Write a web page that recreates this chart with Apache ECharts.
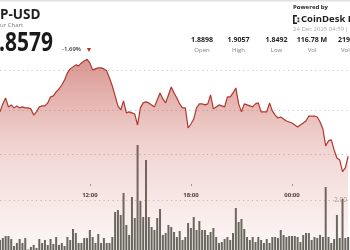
<!DOCTYPE html>
<html><head><meta charset="utf-8">
<script src="https://cdn.jsdelivr.net/npm/echarts@6/dist/echarts.min.js"></script>
<style>html,body{margin:0;padding:0;background:#fff}#c{width:350px;height:250px}</style>
</head><body><div id="c"></div>
<script>
// ---- data ----
const startMinute = 6 * 60 + 40;   // 06:40
const stepMinutes = 10;
const prices = [
  1.8793,1.8833,1.8863,1.8818,1.8828,1.8813,1.8823,1.8813,1.8818,1.8813,
  1.8813,1.8808,1.8777,1.8793,1.8818,1.8823,1.8823,1.8838,1.8868,1.8873,
  1.8893,1.8908,1.8928,1.8953,1.8989,1.9009,1.9019,1.9029,1.9024,1.9039,
  1.9049,1.9057,1.9039,1.9004,1.9009,1.9014,1.9014,1.9009,1.8999,1.8963,
  1.8923,1.8873,1.8823,1.8803,1.8848,1.8788,1.8793,1.8788,1.8782,1.8727,
  1.8813,1.8838,1.8843,1.8838,1.8828,1.8818,1.8853,1.8888,1.8858,1.8838,
  1.8878,1.8918,1.8888,1.8863,1.8833,1.8813,1.8813,1.8712,1.8732,1.8757,
  1.8813,1.8833,1.8833,1.8828,1.8833,1.8878,1.8808,1.8818,1.8828,1.8823,
  1.8818,1.8868,1.8868,1.8888,1.8913,1.8833,1.8793,1.8833,1.8828,1.8823,
  1.8818,1.8833,1.8838,1.8793,1.8793,1.8793,1.8838,1.8798,1.8777,1.8762,
  1.8767,1.8757,1.8747,1.8742,1.8737,1.8727,1.8717,1.8727,1.8737,1.8747,
  1.8772,1.8772,1.8772,1.8767,1.8742,1.8707,1.8622,1.8647,1.8652,1.8602,
  1.8561,1.8551,1.8493,1.8511,1.8570
];
const volumes = [ // millions
  0.40,0.48,0.56,0.56,0.44,0.16,0.28,0.44,0.28,0.48,
  0.02,0.12,0.20,0.08,0.44,0.28,0.40,0.20,0.44,0.24,
  0.52,0.20,0.28,0.16,0.52,0.40,0.84,0.68,0.28,0.28,
  0.48,0.48,0.80,0.52,0.28,0.64,0.28,0.48,0.28,0.28,
  0.52,1.52,1.60,1.40,2.28,1.00,0.60,2.12,1.28,4.20,
  1.96,1.32,3.60,1.32,0.92,0.80,1.28,1.64,0.60,0.68,
  1.00,0.92,0.72,0.52,0.76,0.40,0.52,1.08,0.88,1.32,
  0.80,1.16,0.80,0.80,0.60,0.72,0.88,0.52,0.28,0.32,
  0.44,0.52,0.40,0.68,1.68,1.12,1.24,0.84,0.52,0.40,
  0.52,0.32,0.52,0.40,0.28,0.44,0.28,0.52,0.52,0.48,
  0.80,0.60,0.52,0.56,0.56,0.56,0.52,0.32,0.60,0.68,
  0.68,0.40,0.52,0.48,0.60,0.52,2.52,0.52,0.28,0.44,
  1.40,0.48,2.04,0.48,0.52
];
const timeTickLabels = ['12:00', '18:00', '00:00'];
const priceGridValues = [1.8579, 1.88, 1.90];
const volumeTickValues = [2];
const statValues = ['1.8898', '1.9057', '1.8492', '116.78 M', '219'];
const statLabels = ['Open', 'High', 'Low', 'Vol', 'Vol'];
const titleText = 'P-USD';
const subtitleText = 'ur Chart';
const lastPriceText = '.8579';
const changeText = '-1.69%';
const poweredText = 'Powered by';
const brandText = 'CoinDesk D';
const dateText = '24 Dec 2025 04:59 (';

// ---- build ----
const categories = prices.map((_, i) => {
  const m = (startMinute + i * stepMinutes) % 1440;
  return String(Math.floor(m / 60)).padStart(2, '0') + ':' + String(m % 60).padStart(2, '0');
});
const showTick = (idx, val) => timeTickLabels.includes(val);

function txt(text, x, y, size, weight, color, align, extra) {
  const el = { type: 'text', x: x, y: y, silent: true, z: 100,
    style: { text: text, fill: color, font: weight + ' ' + size + 'px "Open Sans", sans-serif',
      align: align || 'left', verticalAlign: 'middle' } };
  return Object.assign(el, extra || {});
}
const statX = [202, 238.5, 276.5, 312, 338];
const statAlign = ['center', 'center', 'center', 'center', 'left'];
const graphics = [
  { type: 'rect', shape: { x: 0, y: 0, width: 350, height: 1.5 }, style: { fill: '#e2e2e2' }, silent: true },
  txt(titleText, 0, 15.5, 13.5, 'bold', '#1e1e1e'),
  txt(subtitleText, 0, 25, 6, 'normal', '#777'),
  txt(lastPriceText, -1, 43, 26.5, 'bold', '#1a1a1a', 'left', { scaleX: 0.79, originX: 0, originY: 0 }),
  txt(changeText, 62, 49, 6, '600', '#333'),
  txt('\u25BC', 85.5, 49.5, 7, 'normal', '#c0302a'),
  txt(poweredText, 293, 7.5, 6, 'bold', '#222'),
  { type: 'rect', shape: { x: 293, y: 15, width: 1.6, height: 9 }, style: { fill: '#222' }, silent: true },
  { type: 'rect', shape: { x: 293, y: 15, width: 4, height: 1.6 }, style: { fill: '#222' }, silent: true },
  { type: 'rect', shape: { x: 293, y: 22.4, width: 4, height: 1.6 }, style: { fill: '#222' }, silent: true },
  { type: 'rect', shape: { x: 297.5, y: 17.6, width: 1.8, height: 1.8 }, style: { fill: '#222' }, silent: true },
  { type: 'rect', shape: { x: 297.5, y: 20.4, width: 1.8, height: 1.8 }, style: { fill: '#222' }, silent: true },
  txt(brandText, 301, 19.5, 9.5, 'bold', '#1e1e1e'),
  txt(dateText, 293, 29.5, 6, 'normal', '#aaa')
];
statValues.forEach((v, i) => graphics.push(txt(v, statX[i], 40, 7, 'bold', '#222', statAlign[i])));
statLabels.forEach((v, i) => graphics.push(txt(v, statX[i] + (i === 4 ? 3 : 0), 50.5, 6, 'normal', '#808080', statAlign[i])));

const dotted = { color: '#c6c6c6', type: [1.2, 3.3], width: 1 };
const chart = echarts.init(document.getElementById('c'), null, { renderer: 'canvas' });
chart.setOption({
  animation: false,
  backgroundColor: '#fff',
  grid: { left: 0, right: 0, top: 0, bottom: 0, containLabel: false },
  xAxis: {
    type: 'category', data: categories, boundaryGap: false,
    position: 'top', offset: -186,
    axisLine: { show: false },
    axisTick: { show: true, length: 2, interval: showTick, lineStyle: { color: '#9a9a9a', width: 1 } },
    axisLabel: { inside: true, margin: 6, interval: showTick, color: '#333', fontSize: 6, fontWeight: 'bold', fontFamily: '"Open Sans", sans-serif' },
    splitLine: { show: false }
  },
  yAxis: [
    { type: 'value', position: 'left', min: 1.8099, max: 1.9355,
      axisLine: { show: false }, axisLabel: { show: false },
      axisTick: { show: false, customValues: priceGridValues },
      splitLine: { show: true, lineStyle: dotted } },
    { type: 'value', position: 'right', min: 0, max: 10,
      axisLine: { show: false },
      axisTick: { show: false, customValues: volumeTickValues },
      axisLabel: { inside: true, align: 'left', margin: 14, customValues: volumeTickValues,
        formatter: v => v.toFixed(2), color: '#999', fontSize: 6.5, fontFamily: '"Open Sans", sans-serif' },
      splitLine: { show: true, lineStyle: dotted } }
  ],
  series: [
    { type: 'line', data: prices, yAxisIndex: 0, symbol: 'none', smooth: false,
      lineStyle: { color: '#b0372f', width: 1.2 },
      areaStyle: { color: new echarts.graphic.LinearGradient(0, 0, 0, 1, [
        { offset: 0, color: 'rgba(185,62,52,0.78)' },
        { offset: 0.45, color: 'rgba(200,90,80,0.38)' },
        { offset: 1, color: 'rgba(210,130,120,0.10)' }
      ]) } },
    { type: 'bar', data: volumes, yAxisIndex: 1, barWidth: 2,
      itemStyle: { color: '#5e645c' } }
  ],
  graphic: graphics
});
</script></body></html>
